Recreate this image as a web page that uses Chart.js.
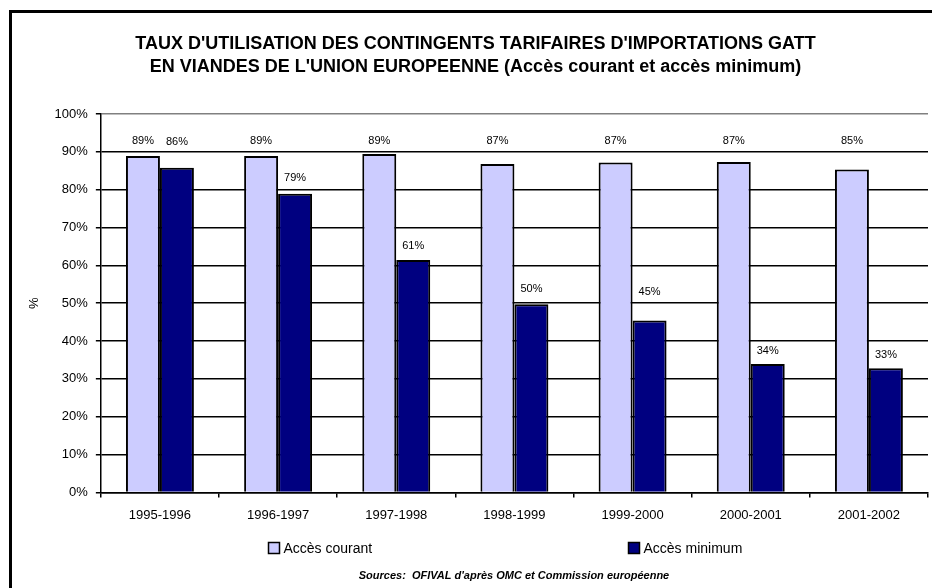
<!DOCTYPE html>
<html>
<head>
<meta charset="utf-8">
<script src="https://cdn.jsdelivr.net/npm/chart.js@4.4.1/dist/chart.umd.min.js"></script>
<style>
  html, body { margin: 0; padding: 0; background: #fff; overflow: hidden; }
  #wrap { position: relative; width: 932px; height: 588px; }
  #frame { position: absolute; left: 9px; top: 10px; width: 1000px; height: 1000px;
           border-top: 3.5px solid #000; border-left: 3.5px solid #000; pointer-events: none; }
</style>
</head>
<body>
<div id="wrap">
  <canvas id="gattChart" width="932" height="588"></canvas>
  <div id="frame"></div>
</div>
<script>
// Données
const campagnes = ['1995-1996', '1996-1997', '1997-1998', '1998-1999', '1999-2000', '2000-2001', '2001-2002'];
const accesCourant = [88.9, 88.9, 89.4, 86.8, 87.2, 87.3, 85.3];
const accesMinimum = [85.8, 78.9, 61.4, 49.7, 45.4, 33.9, 32.8];
const yTicks = [0, 10, 20, 30, 40, 50, 60, 70, 80, 90, 100];

Chart.defaults.font.family = '"Liberation Sans", Arial, sans-serif';
Chart.defaults.color = '#000';

// Étiquettes de valeurs, légende et source (placées comme dans Excel)
const excelExtras = {
  id: 'excelExtras',
  afterDatasetsDraw(chart, args, opts) {
    const c = chart.ctx;
    const y = chart.scales.y;
    c.save();
    c.font = '11px "Liberation Sans", Arial, sans-serif';
    c.fillStyle = '#000';
    c.textAlign = 'center';
    c.textBaseline = 'middle';
    chart.data.datasets.forEach((ds, i) => {
      const meta = chart.getDatasetMeta(i);
      meta.data.forEach((bar, j) => {
        let ly;
        if (i === 0) ly = y.getPixelForValue(opts.courantLevel);
        else ly = bar.y - opts.minOffsets[j];
        c.fillText(Math.round(ds.data[j]) + '%', bar.x, ly);
      });
    });
    c.restore();
  },
  afterDraw(chart, args, opts) {
    const c = chart.ctx;
    const area = chart.chartArea;
    const w = area.right - area.left;
    c.save();
    // légende
    c.font = '14px "Liberation Sans", Arial, sans-serif';
    c.textBaseline = 'middle';
    c.textAlign = 'left';
    chart.data.datasets.forEach((ds, i) => {
      const bx = Math.round(area.left + opts.legendPos[i] * w) + 0.5;
      const by = opts.legendY;
      c.fillStyle = ds.backgroundColor;
      c.fillRect(bx, by - 5.5, 11, 11);
      c.strokeStyle = '#000';
      c.lineWidth = 1.5;
      c.strokeRect(bx, by - 5.5, 11, 11);
      c.fillStyle = '#000';
      c.fillText(ds.label, bx + 15, by + 1);
    });
    // source
    c.font = 'italic bold 11px "Liberation Sans", Arial, sans-serif';
    c.textAlign = 'center';
    c.fillText('Sources:  OFIVAL d\'après OMC et Commission européenne', opts.sourceX, opts.sourceY);
    c.restore();
  }
};

const ctx = document.getElementById('gattChart').getContext('2d');
const gattChart = new Chart(ctx, {
  type: 'bar',
  data: {
    labels: campagnes,
    datasets: [
      {
        label: 'Accès courant',
        data: accesCourant,
        backgroundColor: '#ccccff',
        borderColor: '#000',
        borderWidth: 2
      },
      {
        label: 'Accès minimum',
        data: accesMinimum,
        backgroundColor: '#000080',
        borderColor: '#000',
        borderWidth: 2
      }
    ]
  },
  plugins: [excelExtras],
  options: {
    responsive: false,
    animation: false,
    devicePixelRatio: 1,
    categoryPercentage: 0.575,
    barPercentage: 1,
    layout: { padding: { left: 23, right: 4, top: 0, bottom: 55 } },
    plugins: {
      legend: { display: false },
      tooltip: { enabled: false },
      title: {
        display: true,
        text: ["TAUX D'UTILISATION DES CONTINGENTS TARIFAIRES D'IMPORTATIONS GATT",
               "EN VIANDES DE L'UNION EUROPEENNE (Accès courant et accès minimum)"],
        font: { size: 18, weight: 'bold', lineHeight: 23 / 18 },
        padding: { top: 32.5, bottom: 35.5 }
      },
      excelExtras: {
        courantLevel: 93,
        minOffsets: [26, 16, 14, 15, 29, 13, 13],
        legendPos: [0.2017, 0.6377],
        legendY: 548,
        sourceX: 514,
        sourceY: 576
      }
    },
    scales: {
      x: {
        border: { color: '#000', width: 1.5 },
        grid: {
          offset: true,
          color: (c) => c.index === campagnes.length ? '#808080' : 'rgba(0,0,0,0)',
          tickColor: '#000',
          lineWidth: 1.5,
          tickLength: 5
        },
        ticks: { font: { size: 13 }, padding: 10, maxRotation: 0 }
      },
      y: {
        min: 0,
        max: 100,
        afterBuildTicks: (axis) => { axis.ticks = yTicks.map(v => ({ value: v })); },
        border: { color: '#000', width: 1.5 },
        grid: {
          color: (c) => c.tick && c.tick.value === 100 ? '#808080' : '#000',
          tickColor: '#000',
          lineWidth: 1.5,
          tickLength: 5
        },
        ticks: { font: { size: 13 }, padding: 8, callback: (v) => v + '%' },
        title: {
          display: true,
          text: '%',
          font: { size: 13 },
          padding: { top: 4, bottom: 4 }
        }
      }
    }
  }
});
</script>
</body>
</html>
